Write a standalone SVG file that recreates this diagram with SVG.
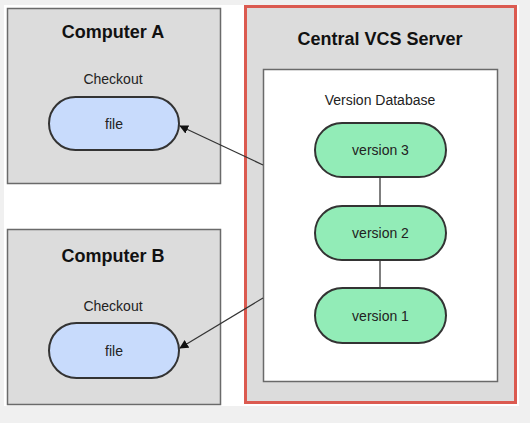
<svg xmlns="http://www.w3.org/2000/svg" width="530" height="423" viewBox="0 0 530 423">
<style>
.box{fill:#dcdcdc;stroke:#6a6a6a;stroke-width:1.5}
.title{font-family:"Liberation Sans",Arial,sans-serif;font-size:18px;font-weight:bold;fill:#111;text-anchor:middle}
.lbl{font-family:"Liberation Sans",Arial,sans-serif;font-size:14px;fill:#222;text-anchor:middle}
.file{fill:#c8dbfc;stroke:#333;stroke-width:2}
.ver{fill:#92ecb7;stroke:#333;stroke-width:2}
.edge{stroke:#333;stroke-width:1.2;fill:none}
.link{stroke:#555;stroke-width:1.5;fill:none}
</style>
<defs>
<marker id="arr" viewBox="0 0 10 10" refX="9" refY="5" markerWidth="9" markerHeight="9" markerUnits="userSpaceOnUse" orient="auto">
<path d="M0,0 L10,5 L0,10 Z" fill="#111"/>
</marker>
</defs>
<rect x="0" y="0" width="530" height="423" fill="#f0f0f0"/>
<rect x="4" y="5" width="515" height="401" fill="#ffffff"/>

<g id="computer-a">
<rect class="box" x="7.5" y="8.5" width="213" height="175"/>
<text class="title" x="113" y="38">Computer A</text>
<text class="lbl" x="113" y="84">Checkout</text>
<g id="file-a">
<rect class="file" x="49" y="97" width="130" height="53" rx="26.5"/>
<text class="lbl" x="114" y="129">file</text>
</g>
</g>

<g id="computer-b">
<rect class="box" x="7.5" y="229.5" width="213" height="175"/>
<text class="title" x="113" y="262">Computer B</text>
<text class="lbl" x="113" y="311">Checkout</text>
<g id="file-b">
<rect class="file" x="49" y="323" width="130" height="55" rx="27.5"/>
<text class="lbl" x="114" y="356">file</text>
</g>
</g>

<g id="server">
<rect x="245.5" y="6.5" width="270" height="396" fill="#dcdcdc" stroke="#db5a50" stroke-width="3"/>
<text class="title" x="380" y="45">Central VCS Server</text>
<g id="version-database">
<rect x="263.5" y="69.5" width="234" height="312" fill="#ffffff" stroke="#6a6a6a" stroke-width="1.5"/>
<text class="lbl" x="380" y="105">Version Database</text>
</g>
</g>

<g id="connectors">
<line class="link" x1="380" y1="177" x2="380" y2="206"/>
<line class="link" x1="380" y1="260" x2="380" y2="288"/>
<line class="edge" x1="263" y1="165" x2="180" y2="126" marker-end="url(#arr)"/>
<line class="edge" x1="263" y1="298" x2="180" y2="348" marker-end="url(#arr)"/>
</g>

<g id="version-3">
<rect class="ver" x="315" y="123" width="131" height="54" rx="27"/>
<text class="lbl" x="380.5" y="155">version 3</text>
</g>
<g id="version-2">
<rect class="ver" x="315" y="206" width="131" height="54" rx="27"/>
<text class="lbl" x="380.5" y="238">version 2</text>
</g>
<g id="version-1">
<rect class="ver" x="315" y="288" width="131" height="55" rx="27.5"/>
<text class="lbl" x="380.5" y="321">version 1</text>
</g>
</svg>
